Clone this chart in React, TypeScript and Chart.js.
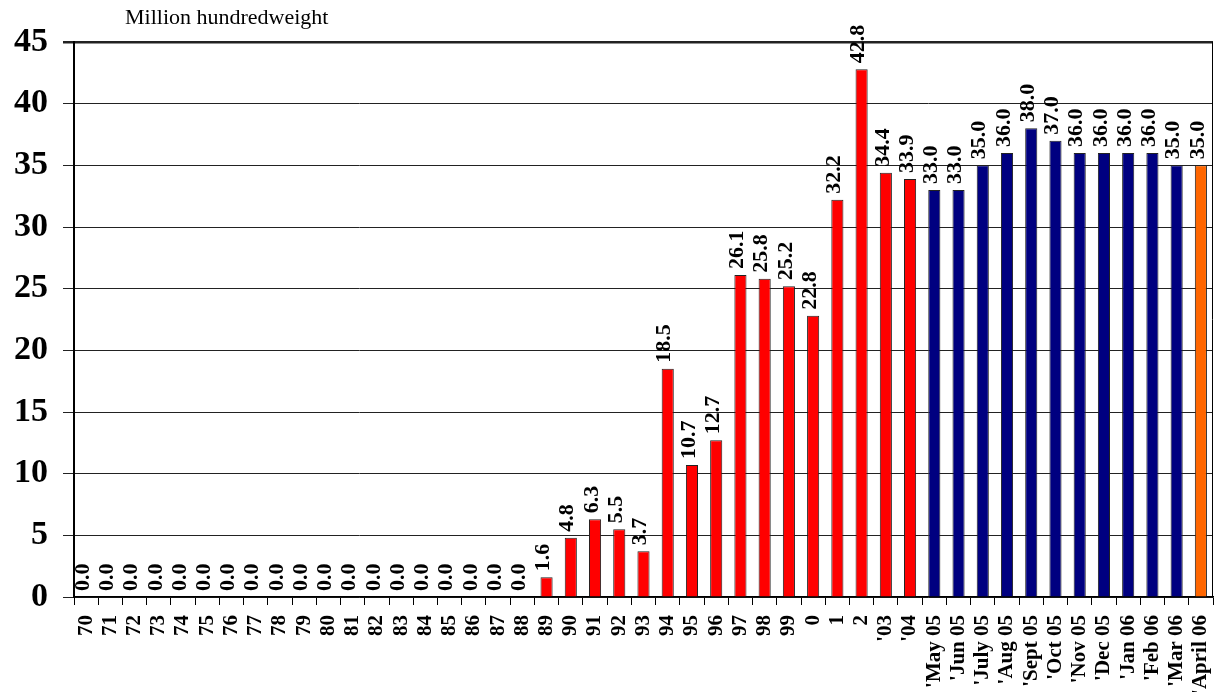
import React, { useEffect, useRef } from "react";
import { Chart, registerables } from "chart.js";

Chart.register(...registerables);

const categories: string[] = [
  "70", "71", "72", "73", "74", "75", "76", "77", "78", "79",
  "80", "81", "82", "83", "84", "85", "86", "87", "88", "89",
  "90", "91", "92", "93", "94", "95", "96", "97", "98", "99",
  "0", "1", "2", "'03", "'04",
  "'May 05", "'Jun 05", "'July 05", "'Aug 05", "'Sept 05", "'Oct 05",
  "'Nov 05", "'Dec 05", "'Jan 06", "'Feb 06", "'Mar 06", "'April 06",
];

const values: number[] = [
  0, 0, 0, 0, 0, 0, 0, 0, 0, 0,
  0, 0, 0, 0, 0, 0, 0, 0, 0, 1.6,
  4.8, 6.3, 5.5, 3.7, 18.5, 10.7, 12.7, 26.1, 25.8, 25.2,
  22.8, 32.2, 42.8, 34.4, 33.9,
  33.0, 33.0, 35.0, 36.0, 38.0, 37.0,
  36.0, 36.0, 36.0, 36.0, 35.0, 35.0,
];

// 0 = annual (red), 1 = monthly (navy), 2 = latest (orange)
const seriesKind: number[] = [
  0, 0, 0, 0, 0, 0, 0, 0, 0, 0,
  0, 0, 0, 0, 0, 0, 0, 0, 0, 0,
  0, 0, 0, 0, 0, 0, 0, 0, 0, 0,
  0, 0, 0, 0, 0,
  1, 1, 1, 1, 1, 1,
  1, 1, 1, 1, 1, 2,
];

const kindColors: string[] = ["#FF0000", "#000080", "#FF6600"];
const yTicks: number[] = [0, 5, 10, 15, 20, 25, 30, 35, 40, 45];
const unitLabel = "Million hundredweight";

const FONT = "'Liberation Serif', 'Times New Roman', serif";

export default function App() {
  const canvasRef = useRef<HTMLCanvasElement | null>(null);

  useEffect(() => {
    if (!canvasRef.current) return;

    const labelPlugin = {
      id: "barLabels",
      afterDatasetsDraw(chart: any) {
        const ctx = chart.ctx;
        const meta = chart.getDatasetMeta(0);
        ctx.save();
        ctx.fillStyle = "#000";
        ctx.font = `bold 22px ${FONT}`;
        ctx.textAlign = "left";
        ctx.textBaseline = "middle";
        meta.data.forEach((bar: any, i: number) => {
          const v = values[i];
          ctx.save();
          ctx.translate(bar.x - 3, bar.y - 6);
          ctx.rotate(-Math.PI / 2);
          ctx.fillText(v.toFixed(1), 0, 0);
          ctx.restore();
        });
        ctx.restore();
      },
    };

    const framePlugin = {
      id: "frame",
      afterDraw(chart: any) {
        const { ctx, chartArea } = chart;
        ctx.save();
        ctx.strokeStyle = "#000";
        ctx.lineWidth = 1;
        ctx.beginPath();
        ctx.moveTo(chartArea.right - 0.5, chartArea.top);
        ctx.lineTo(chartArea.right - 0.5, chartArea.bottom);
        ctx.stroke();
        ctx.fillStyle = "#000";
        ctx.font = `22px ${FONT}`;
        ctx.textAlign = "left";
        ctx.textBaseline = "middle";
        ctx.fillText(unitLabel, chartArea.left + 51, 18);
        ctx.restore();
      },
    };

    const chart = new Chart(canvasRef.current, {
      type: "bar",
      data: {
        labels: categories,
        datasets: [
          {
            data: values,
            backgroundColor: seriesKind.map((k) => kindColors[k]),
            borderColor: "#222",
            borderWidth: 1,
            barPercentage: 0.5,
            categoryPercentage: 1,
          },
        ],
      },
      options: {
        responsive: false,
        animation: false,
        layout: { padding: { top: 42, right: 1, left: 0, bottom: 0 } },
        plugins: {
          legend: { display: false },
          tooltip: { enabled: false },
          title: { display: false },
        },
        scales: {
          x: {
            grid: {
              display: true,
              drawOnChartArea: false,
              tickLength: 8,
              color: "#000",
              offset: true,
            },
            border: { display: true, color: "#000", width: 1.5 },
            ticks: {
              autoSkip: false,
              maxRotation: 90,
              minRotation: 90,
              padding: 10,
              color: "#000",
              font: { family: FONT, size: 21, weight: "bold" },
            },
            afterFit(scale: any) {
              scale.height = 95;
              scale.paddingLeft = 0;
              scale.paddingRight = 0;
            },
          },
          y: {
            min: 0,
            max: 45,
            afterBuildTicks(scale: any) {
              scale.ticks = yTicks.map((v) => ({ value: v }));
            },
            grid: {
              color: "#222",
              lineWidth: (c: any) => (c.tick && c.tick.value === 45 ? 2.5 : 1),
              tickLength: 11,
            },
            border: { display: true, color: "#000", width: 2 },
            ticks: {
              padding: 15,
              color: "#000",
              font: { family: FONT, size: 34, weight: "bold" },
            },
            afterFit(scale: any) {
              scale.width = 74;
              scale.paddingTop = 0;
              scale.paddingBottom = 0;
            },
          },
        },
      },
      plugins: [labelPlugin, framePlugin],
    });

    return () => chart.destroy();
  }, []);

  return (
    <div style={{ position: "absolute", left: 0, top: 0, width: 1214, height: 692, background: "#fff" }}>
      <canvas ref={canvasRef} width={1214} height={692} style={{ display: "block" }} />
    </div>
  );
}
